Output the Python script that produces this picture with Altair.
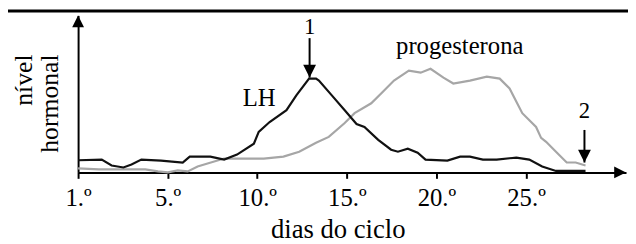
import altair as alt
import pandas as pd

# ---- data (x in days from origin, y in arbitrary hormone-level units) ----
lh_day = [0, 1.32, 1.87, 2.53, 2.98, 3.53, 4.63, 5.84, 6.23, 7.38, 8.15, 8.87, 9.81,
          10.08, 10.69, 11.63, 12.18, 12.89, 13.28, 13.44, 14.16, 14.88, 15.54, 15.98,
          16.75, 17.47, 17.85, 18.40, 18.95, 19.39, 20.61, 21.32, 21.87, 22.59, 23.36,
          24.46, 25.18, 25.90, 26.67, 28.32]
lh_level = [12.3, 13, 7, 5, 8, 13, 12, 10, 16, 16, 13, 18, 29,
            41, 51, 63, 78, 95, 95, 93, 78, 63, 49, 46,
            33, 23, 21, 24, 20, 13, 12, 16, 16, 13, 13,
            15, 13, 6, 1.5, 1.5]

prog_day = [0, 1.16, 3.75, 4.46, 5.01, 5.56, 6.12, 6.67, 8.15, 8.87, 10.36, 11.46,
            12.34, 13.28, 13.99, 14.88, 15.43, 16.36, 17.08, 17.63, 18.46, 19.12,
            19.67, 20.39, 20.94, 21.87, 22.81, 23.53, 24.08, 24.79, 25.56, 25.84,
            26.12, 26.67, 27.27, 27.77, 28.32]
prog_level = [4, 3, 3, 1, 0, 2, 1, 6, 14, 14, 14, 16,
              21, 30, 36, 50, 60, 70, 83, 93, 103, 101,
              105, 96, 90, 93, 97, 95, 85, 60, 46, 35,
              31, 21, 10, 10, 7]

series_names = ["progesterona", "LH"]
series_colors = ["#a6a6a6", "#111111"]

tick_values = [0, 5, 10, 15, 20, 25]
tick_labels = ["1.º", "5.º", "10.º", "15.º", "20.º", "25.º"]

x_title = "dias do ciclo"
y_title = ["nível", "hormonal"]

big_text = ["LH", "progesterona"]
big_day = [10.1, 21.3]
big_level = [67, 120]

num_text = ["1", "2"]
num_day = [12.92, 28.26]
num_level = [140, 55]

arrow_day = [12.92, 28.26]
arrow_top = [136, 43]
arrow_tip = [96, 10]

X_MAX = 30.58
Y_MAX = 159

FONT = "Liberation Serif, Times New Roman, Times, serif"

# ---- tables ----
lines_df = pd.concat([
    pd.DataFrame({"day": prog_day, "level": prog_level, "hormone": series_names[0], "o": range(len(prog_day))}),
    pd.DataFrame({"day": lh_day, "level": lh_level, "hormone": series_names[1], "o": range(len(lh_day))}),
])
big_df = pd.DataFrame({"day": big_day, "level": big_level, "t": big_text})
num_df = pd.DataFrame({"day": num_day, "level": num_level, "t": num_text})
arrow_df = pd.DataFrame({"day": arrow_day, "top": arrow_top, "tip": arrow_tip})

label_expr = "''"
for v, l in reversed(list(zip(tick_values, tick_labels))):
    label_expr = f"datum.value == {v} ? '{l}' : ({label_expr})"

x_scale = alt.Scale(domain=[0, X_MAX], nice=False, zero=False)
y_scale = alt.Scale(domain=[0, Y_MAX], nice=False, zero=False)

x_axis = alt.Axis(values=tick_values, labelExpr=label_expr, title=x_title,
                  tickSize=6, tickWidth=2, tickColor="black",
                  domainColor="black", domainWidth=2, grid=False,
                  labelFont=FONT, labelFontSize=25, labelColor="black",
                  labelBaseline="alphabetic", labelPadding=28, labelFlush=False,
                  labelOverlap=False,
                  titleFont=FONT, titleFontSize=27, titleFontWeight="normal",
                  titleColor="black", titleX=263, titleY=66, titleAlign="center",
                  titleBaseline="alphabetic")
y_axis = alt.Axis(ticks=False, labels=False, grid=False,
                  domainColor="black", domainWidth=2, title=y_title,
                  titleAngle=270, titleAlign="right", titleBaseline="alphabetic",
                  titleX=-47, titleY=39, titleLineHeight=26,
                  titleFont=FONT, titleFontSize=26, titleFontWeight="normal",
                  titleColor="black")

lines = alt.Chart(lines_df).mark_line(strokeWidth=2.2).encode(
    x=alt.X("day:Q", scale=x_scale, axis=x_axis),
    y=alt.Y("level:Q", scale=y_scale, axis=y_axis),
    color=alt.Color("hormone:N", scale=alt.Scale(domain=series_names, range=series_colors), legend=None),
    order="o:Q",
)

x_arrow = alt.Chart(pd.DataFrame({"day": [X_MAX], "level": [0]})).mark_point(
    shape="M0,0L-1,-0.5L-1,0.5Z", size=576, filled=True, color="black", opacity=1, strokeWidth=0
).encode(x=alt.X("day:Q", scale=x_scale), y=alt.Y("level:Q", scale=y_scale))

y_arrow = alt.Chart(pd.DataFrame({"day": [0], "level": [Y_MAX]})).mark_point(
    shape="M0,0L-0.5,1L0.5,1Z", size=576, filled=True, color="black", opacity=1, strokeWidth=0
).encode(x=alt.X("day:Q", scale=x_scale), y=alt.Y("level:Q", scale=y_scale))

shafts = alt.Chart(arrow_df).mark_rule(strokeWidth=2, color="black").encode(
    x=alt.X("day:Q", scale=x_scale), y=alt.Y("top:Q", scale=y_scale), y2=alt.Y2("tip:Q"))

heads = alt.Chart(arrow_df).mark_point(
    shape="M0,0L-0.5,-1L0.5,-1Z", size=676, filled=True, color="black", opacity=1, strokeWidth=0
).encode(x=alt.X("day:Q", scale=x_scale), y=alt.Y("tip:Q", scale=y_scale))

big_labels = alt.Chart(big_df).mark_text(font=FONT, fontSize=25, color="black",
                                         align="center", baseline="alphabetic").encode(
    x=alt.X("day:Q", scale=x_scale), y=alt.Y("level:Q", scale=y_scale), text="t:N")

num_labels = alt.Chart(num_df).mark_text(font=FONT, fontSize=23, color="black",
                                         align="center", baseline="alphabetic").encode(
    x=alt.X("day:Q", scale=x_scale), y=alt.Y("level:Q", scale=y_scale), text="t:N")

top_rule = alt.Chart(pd.DataFrame({"a": [0]})).mark_rule(strokeWidth=3, color="black").encode(
    x=alt.value(-71), x2=alt.value(557), y=alt.value(-4.5))

chart = alt.layer(lines, x_arrow, y_arrow, shafts, heads, big_labels, num_labels, top_rule).properties(
    width=555, height=159,
    autosize=alt.AutoSizeParams(type="none"),
    padding={"left": 71, "top": 6, "right": 2, "bottom": 71},
).configure_view(stroke=None)

chart.save("out.html", embed_options={"renderer": "svg", "actions": False})
